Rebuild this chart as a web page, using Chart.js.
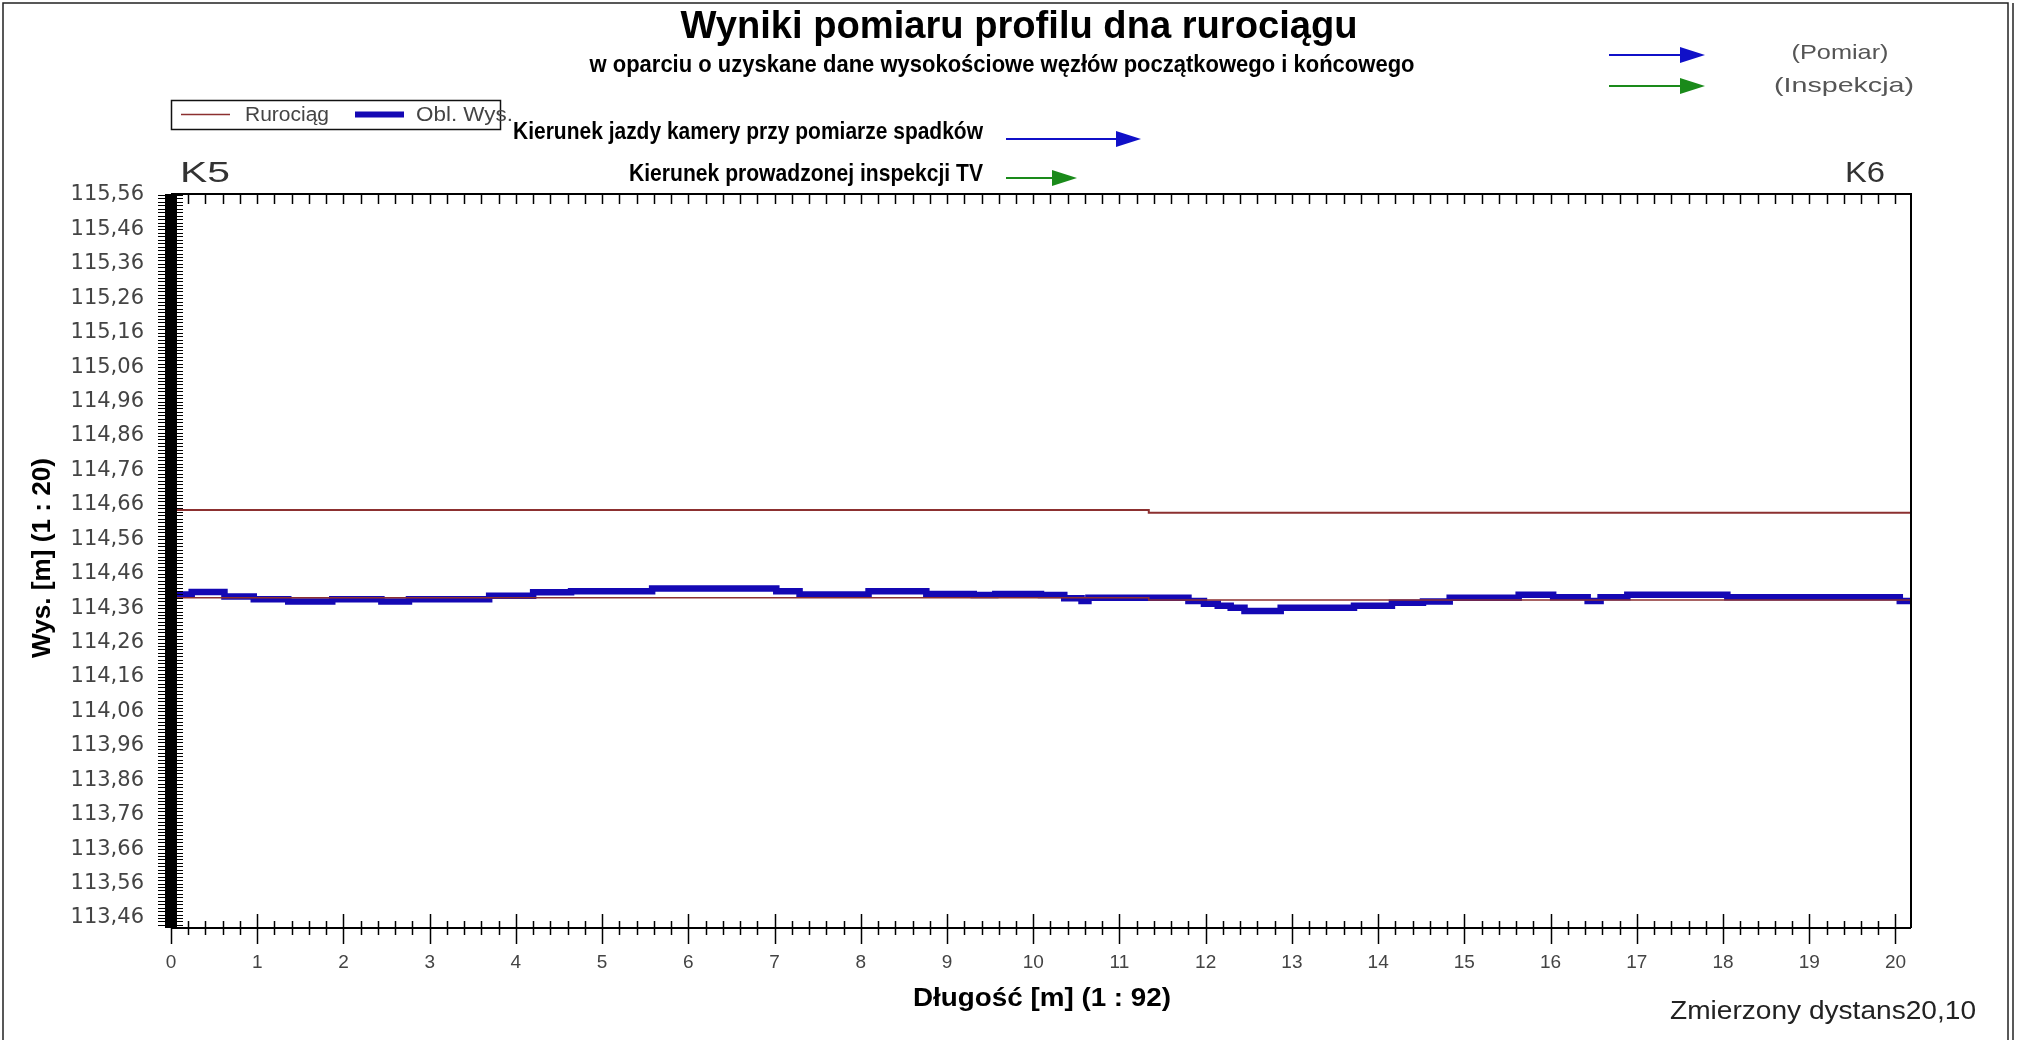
<!DOCTYPE html>
<html>
<head>
<meta charset="utf-8">
<script src="https://cdn.jsdelivr.net/npm/chart.js@4.4.1/dist/chart.umd.min.js"></script>
<style>
  html, body { margin: 0; padding: 0; background: #fff; }
  #wrap { width: 2022px; height: 1040px; }
</style>
</head>
<body>
<div id="wrap"><canvas id="profil" width="2022" height="1040"></canvas></div>
<script>
// Rurociąg - górna i dolna krawędź rury [m n.p.m.]
const pipeDist   = [0, 11.34, 20.18];
const pipeTop    = [114.645, 114.637, 114.637];
const pipeBottom = [114.390, 114.384, 114.384];

// Obl. Wys. - początek odcinka [m] i obliczona wysokość
const obsDist = [0.00, 0.24, 0.62, 0.96, 1.36, 1.87, 2.44, 2.76, 3.69, 4.20,
                 4.64, 5.58, 7.02, 7.29, 8.09, 8.76, 9.31, 9.56, 10.09, 10.36,
                 10.56, 10.64, 11.80, 11.98, 12.14, 12.29, 12.45, 12.87, 13.72, 14.16,
                 14.52, 14.83, 15.63, 16.03, 16.43, 16.58, 16.89, 18.05, 20.05, 20.18];
const obsHeight = [114.400, 114.407, 114.394, 114.386, 114.379, 114.386, 114.379, 114.386, 114.396, 114.406,
                   114.409, 114.417, 114.409, 114.400, 114.409, 114.401, 114.398, 114.401, 114.398, 114.389,
                   114.381, 114.390, 114.381, 114.373, 114.367, 114.361, 114.352, 114.361, 114.367, 114.376,
                   114.379, 114.390, 114.399, 114.392, 114.381, 114.392, 114.399, 114.392, 114.381, 114.381];

// opisy osi
const xTicks = [0, 1, 2, 3, 4, 5, 6, 7, 8, 9, 10, 11, 12, 13, 14, 15, 16, 17, 18, 19, 20];
const yTicks = [113.46, 113.56, 113.66, 113.76, 113.86, 113.96, 114.06, 114.16, 114.26, 114.36, 114.46,
                114.56, 114.66, 114.76, 114.86, 114.96, 115.06, 115.16, 115.26, 115.36, 115.46, 115.56];

const FONT = '"Liberation Sans", Arial, sans-serif';

const toPoints = (xs, ys) => xs.map((x, i) => ({ x: x, y: ys[i] }));

// tekst dopasowany do zadanej szerokości (ściśnięty w poziomie)
function txt(ctx, s, x, y, o) {
  ctx.save();
  ctx.font = (o.bold ? 'bold ' : '') + o.size + 'px ' + FONT;
  ctx.fillStyle = o.color || '#000';
  ctx.textBaseline = 'middle';
  ctx.textAlign = 'left';
  const w = ctx.measureText(s).width;
  const sx = o.width ? o.width / w : 1;
  ctx.translate(x, y);
  if (o.rot) ctx.rotate(o.rot);
  ctx.scale(sx, 1);
  const align = o.align || 'center';
  const dx = align === 'center' ? -w / 2 : (align === 'right' ? -w : 0);
  ctx.fillText(s, dx, 0);
  ctx.restore();
}

function arrow(ctx, x1, x2, y, color) {
  ctx.save();
  ctx.strokeStyle = color;
  ctx.fillStyle = color;
  ctx.lineWidth = 2;
  ctx.beginPath();
  ctx.moveTo(x1, y);
  ctx.lineTo(x2 - 20, y);
  ctx.stroke();
  ctx.beginPath();
  ctx.moveTo(x2 - 25, y - 8);
  ctx.lineTo(x2, y);
  ctx.lineTo(x2 - 25, y + 8);
  ctx.closePath();
  ctx.fill();
  ctx.restore();
}

const framePlugin = {
  id: 'frame',
  afterDraw(chart) {
    const ctx = chart.ctx;
    const a = chart.chartArea;
    const xs = chart.scales.x;
    const ys = chart.scales.y;
    const x0 = xs.getPixelForValue(0);

    ctx.save();
    // ramka całego rysunku
    ctx.strokeStyle = '#222';
    ctx.lineWidth = 1.5;
    ctx.strokeRect(3, 3, 2005, 1045);
    ctx.beginPath();
    ctx.moveTo(2013, 3);
    ctx.lineTo(2013, 1040);
    ctx.stroke();

    // ramka wykresu
    ctx.strokeStyle = '#000';
    ctx.lineWidth = 2;
    ctx.beginPath();
    ctx.moveTo(x0, a.top);
    ctx.lineTo(a.right, a.top);
    ctx.lineTo(a.right, a.bottom);
    ctx.moveTo(x0, a.bottom);
    ctx.lineTo(a.right, a.bottom);
    ctx.stroke();

    // podziałka górna i dolna co 0,2 m
    ctx.lineWidth = 1.5;
    ctx.beginPath();
    for (let i = 0; i <= 100; i++) {
      const px = Math.round(xs.getPixelForValue(i * 0.2)) + 0.5;
      ctx.moveTo(px, a.top);
      ctx.lineTo(px, a.top + 10);
      if (i % 5 === 0) {
        ctx.moveTo(px, a.bottom - 14);
        ctx.lineTo(px, a.bottom + 16);
      } else {
        ctx.moveTo(px, a.bottom - 7);
        ctx.lineTo(px, a.bottom + 7);
      }
    }
    ctx.stroke();

    // oś pionowa - gęsta podziałka co 0,01 m
    ctx.fillStyle = '#000';
    ctx.fillRect(x0 - 6, a.top, 12, a.bottom - a.top);
    ctx.lineWidth = 1;
    ctx.beginPath();
    for (let i = Math.ceil(ys.min * 100); i <= Math.floor(ys.max * 100); i++) {
      const py = Math.round(ys.getPixelForValue(i / 100)) + 0.5;
      ctx.moveTo(x0 - 13, py);
      ctx.lineTo(x0 + 12, py);
    }
    ctx.stroke();
    ctx.restore();

    // tytuły
    txt(ctx, 'Wyniki pomiaru profilu dna rurociągu', 1019, 27, { size: 39, bold: true, width: 677 });
    txt(ctx, 'w oparciu o uzyskane dane wysokościowe węzłów początkowego i końcowego', 1002, 65, { size: 24, bold: true, width: 825 });

    // legenda
    ctx.save();
    ctx.fillStyle = '#fff';
    ctx.fillRect(171, 100, 329, 29);
    ctx.strokeStyle = '#111';
    ctx.lineWidth = 1.5;
    ctx.strokeRect(171.5, 100.5, 329, 29);
    ctx.strokeStyle = '#8c3030';
    ctx.lineWidth = 1.5;
    ctx.beginPath();
    ctx.moveTo(181, 114.5);
    ctx.lineTo(230, 114.5);
    ctx.stroke();
    ctx.strokeStyle = '#1408b4';
    ctx.lineWidth = 6;
    ctx.beginPath();
    ctx.moveTo(355, 114.5);
    ctx.lineTo(404, 114.5);
    ctx.stroke();
    ctx.restore();
    txt(ctx, 'Rurociąg', 245, 115, { size: 20, width: 84, align: 'left', color: '#444' });
    txt(ctx, 'Obl. Wys.', 416, 115, { size: 20, width: 97, align: 'left', color: '#444' });

    // kierunki
    txt(ctx, 'Kierunek jazdy kamery przy pomiarze spadków', 983, 132, { size: 24, bold: true, width: 470, align: 'right' });
    arrow(ctx, 1006, 1141, 139, '#1010c8');
    txt(ctx, 'Kierunek prowadzonej inspekcji TV', 983, 174, { size: 24, bold: true, width: 354, align: 'right' });
    arrow(ctx, 1006, 1077, 178, '#1a8a1a');

    arrow(ctx, 1609, 1705, 55, '#1010c8');
    txt(ctx, '(Pomiar)', 1840, 53, { size: 21, width: 97, color: '#555' });
    arrow(ctx, 1609, 1705, 86, '#1a8a1a');
    txt(ctx, '(Inspekcja)', 1844, 86, { size: 21, width: 140, color: '#555' });

    // węzły
    txt(ctx, 'K5', 180, 174, { size: 29, width: 50, align: 'left', color: '#333' });
    txt(ctx, 'K6', 1885, 174, { size: 29, width: 40, align: 'right', color: '#333' });

    // opisy osi
    txt(ctx, 'Wys. [m] (1 : 20)', 43, 558, { size: 25, bold: true, width: 200, rot: -Math.PI / 2 });
    txt(ctx, 'Długość [m] (1 : 92)', 1042, 999, { size: 25, bold: true, width: 258 });
    txt(ctx, 'Zmierzony dystans20,10', 1670, 1012, { size: 26, width: 306, align: 'left', color: '#222' });
  }
};

const ctx = document.getElementById('profil').getContext('2d');

new Chart(ctx, {
  type: 'line',
  data: {
    datasets: [
      {
        label: 'Rurociąg',
        data: toPoints(pipeDist, pipeTop),
        borderColor: '#8c3030',
        borderWidth: 2,
        stepped: true,
        pointRadius: 0,
        fill: false
      },
      {
        label: 'Rurociąg (dno)',
        data: toPoints(pipeDist, pipeBottom),
        borderColor: '#8c3030',
        borderWidth: 1.5,
        stepped: true,
        pointRadius: 0,
        fill: false
      },
      {
        label: 'Obl. Wys.',
        data: toPoints(obsDist, obsHeight),
        borderColor: '#1408b4',
        borderWidth: 6.5,
        stepped: true,
        pointRadius: 0,
        fill: false
      }
    ]
  },
  options: {
    responsive: false,
    animation: false,
    devicePixelRatio: 1,
    layout: {
      padding: { left: 0, top: 194, right: 111, bottom: 0 }
    },
    plugins: {
      legend: { display: false },
      title: { display: false },
      tooltip: { enabled: false }
    },
    scales: {
      x: {
        type: 'linear',
        min: 0,
        max: 20.18,
        afterBuildTicks: (scale) => { scale.ticks = xTicks.map(v => ({ value: v })); },
        afterFit: (scale) => { scale.height = 112; },
        grid: { display: false, drawTicks: false },
        border: { display: false },
        ticks: {
          autoSkip: false,
          maxRotation: 0,
          padding: 23,
          color: '#444',
          font: { family: FONT, size: 19 },
          callback: (v) => String(v)
        }
      },
      y: {
        type: 'linear',
        min: 113.431,
        max: 115.563,
        afterBuildTicks: (scale) => { scale.ticks = yTicks.map(v => ({ value: v })); },
        afterFit: (scale) => { scale.width = 171; },
        grid: { display: false, drawTicks: false },
        border: { display: false },
        ticks: {
          autoSkip: false,
          padding: 27,
          color: '#444',
          font: { family: '"DejaVu Sans", sans-serif', size: 21 },
          callback: (v) => v.toFixed(2).replace('.', ',')
        }
      }
    }
  },
  plugins: [framePlugin]
});
</script>
</body>
</html>
